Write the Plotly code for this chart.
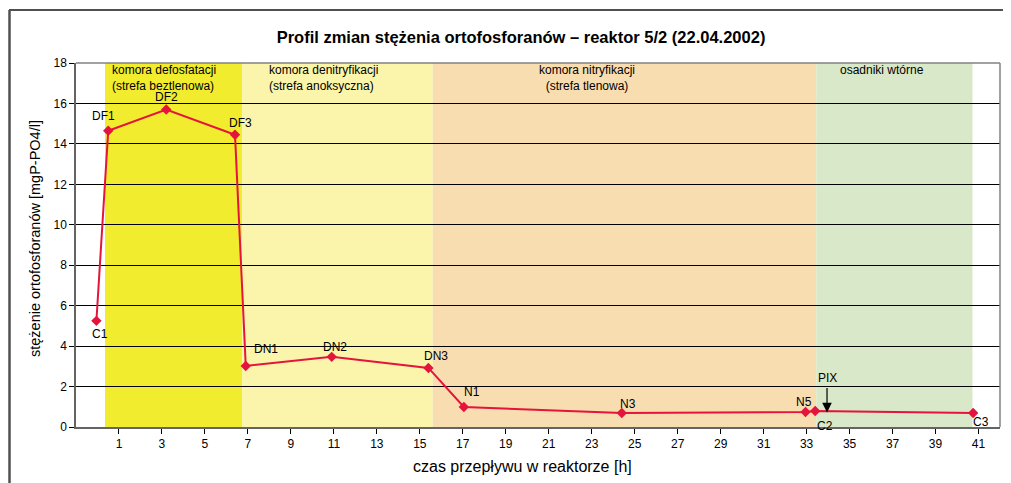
import plotly.graph_objects as go

# data
labels = ["C1", "DF1", "DF2", "DF3", "DN1", "DN2", "DN3", "N1", "N3", "N5", "C2", "C3"]
time_h = [-0.05, 0.5, 3.2, 6.4, 6.9, 10.9, 15.4, 17.05, 24.4, 32.95, 33.4, 40.75]
conc = [5.25, 14.65, 15.7, 14.45, 3.02, 3.47, 2.92, 0.99, 0.69, 0.74, 0.79, 0.69]

# label offsets in pixels (style): dx right, dy up
label_dx = [4, -5, 0, 5, 20, 3, 8, 8, 6, -2, 10, 8]
label_dy = [-13, 15, 13, 12, 17, 10, 12, 15, 9, 10, -15, -9]

zone_names = ["komora defosfatacji<br>(strefa beztlenowa)", "komora denitryfikacji<br>(strefa anoksyczna)",
              "komora nitryfikacji<br>(strefa tlenowa)", "osadniki wtórne"]
zone_start = [0.35, 6.74, 15.6, 33.45]
zone_end = [6.74, 15.6, 33.45, 40.72]
zone_colors = ["rgb(242,236,46)", "rgb(250,245,170)", "rgb(248,221,176)", "rgb(216,232,200)"]
zone_label_x = [0.6, 7.9, 22.8, 36.5]
zone_label_align = ["left", "left", "center", "center"]

x_ticks = list(range(1, 42, 2))
y_ticks = list(range(0, 19, 2))

pix_x = 33.95
pix_from = 2.0
pix_to = 0.72

FONT = "Liberation Sans, Arial, sans-serif"

# page offset (browser body margin) compensation
L, T, W, H = 68, 55, 924, 364
PX0, PY0 = 76, 427  # rendered plot-area left / bottom in page pixels


def px(xp):
    return (xp - PX0) / W


def py(yp):
    return (PY0 - yp) / H


fig = go.Figure()
fig.add_trace(go.Scatter(
    x=time_h, y=conc, mode="lines+markers",
    line=dict(color="rgb(228,20,60)", width=2),
    marker=dict(symbol="diamond", size=8, color="rgb(228,20,60)"),
    showlegend=False, cliponaxis=False,
))

shapes = []
for s, e, c in zip(zone_start, zone_end, zone_colors):
    shapes.append(dict(type="rect", xref="x", yref="y", x0=s, x1=e, y0=0, y1=18,
                       fillcolor=c, line=dict(width=0), layer="below"))
# plot area right / top border
shapes.append(dict(type="line", xref="paper", yref="paper", x0=1, x1=1, y0=0, y1=1,
                   line=dict(color="rgb(130,130,130)", width=1.5)))
shapes.append(dict(type="line", xref="paper", yref="paper", x0=0, x1=1, y0=1, y1=1,
                   line=dict(color="rgb(130,130,130)", width=1.5)))
# outer chart border
shapes.append(dict(type="line", xref="paper", yref="paper", x0=px(9), x1=px(1030), y0=py(10), y1=py(10),
                   line=dict(color="rgb(80,80,80)", width=2)))
shapes.append(dict(type="line", xref="paper", yref="paper", x0=px(9.5), x1=px(9.5), y0=py(10), y1=py(500),
                   line=dict(color="rgb(80,80,80)", width=2.5)))
fig.update_layout(shapes=shapes)

annotations = []
for name, x, al in zip(zone_names, zone_label_x, zone_label_align):
    annotations.append(dict(x=x, y=18, xref="x", yref="y", text=name, showarrow=False,
                            xanchor=al, yanchor="top", align=al,
                            font=dict(size=12, color="black", family=FONT), yshift=2))
for lab, x, y, dx, dy in zip(labels, time_h, conc, label_dx, label_dy):
    annotations.append(dict(x=x, y=y, xref="x", yref="y", text=lab, showarrow=False,
                            xanchor="center", yanchor="middle", xshift=dx, yshift=dy,
                            font=dict(size=12, color="black", family=FONT)))
annotations.append(dict(x=pix_x, y=pix_to, ax=pix_x, ay=pix_from, xref="x", yref="y",
                        axref="x", ayref="y", text="", showarrow=True, arrowhead=2,
                        arrowsize=1.6, arrowwidth=1.2, arrowcolor="black"))
annotations.append(dict(x=pix_x, y=pix_from, xref="x", yref="y", text="PIX", showarrow=False,
                        yanchor="bottom", font=dict(size=12, color="black", family=FONT)))
# axis titles
annotations.append(dict(x=px(522), y=py(466), xref="paper", yref="paper",
                        text="czas przepływu w reaktorze [h]", showarrow=False,
                        xanchor="center", yanchor="middle", font=dict(size=16, color="black", family=FONT)))
annotations.append(dict(x=px(35), y=py(239), xref="paper", yref="paper",
                        text="stężenie ortofosforanów [mgP-PO4/l]", showarrow=False, textangle=-90,
                        xanchor="center", yanchor="middle", font=dict(size=14.5, color="black", family=FONT)))
fig.update_layout(annotations=annotations)

fig.update_layout(
    width=1011, height=483,
    margin=dict(l=L, r=1011 - L - W, t=T, b=483 - T - H, autoexpand=False),
    paper_bgcolor="white", plot_bgcolor="white",
    title=dict(text="<b>Profil zmian stężenia ortofosforanów – reaktor 5/2 (22.04.2002)</b>",
               x=513 / 1011, xanchor="center", y=1 - 29 / 483, yanchor="middle",
               font=dict(size=16.5, color="black", family="Liberation Sans Narrow, Arial Narrow, Liberation Sans, sans-serif")),
    font=dict(family=FONT, color="black"),
)
fig.update_xaxes(range=[-1, 42], tickvals=x_ticks, ticktext=[str(v) for v in x_ticks],
                 showgrid=False, zeroline=False, showline=True, linecolor="rgb(100,100,100)",
                 linewidth=1.5, ticks="outside", ticklen=5, tickcolor="black", automargin=False,
                 tickfont=dict(size=12, family=FONT))
fig.update_yaxes(range=[0, 18], tickvals=y_ticks, showgrid=True, gridcolor="black", gridwidth=1,
                 zeroline=False, showline=True, linecolor="rgb(100,100,100)", linewidth=1.5,
                 ticks="outside", ticklen=5, tickcolor="black", automargin=False,
                 tickfont=dict(size=12, family=FONT))

fig.write_html("out.html")
